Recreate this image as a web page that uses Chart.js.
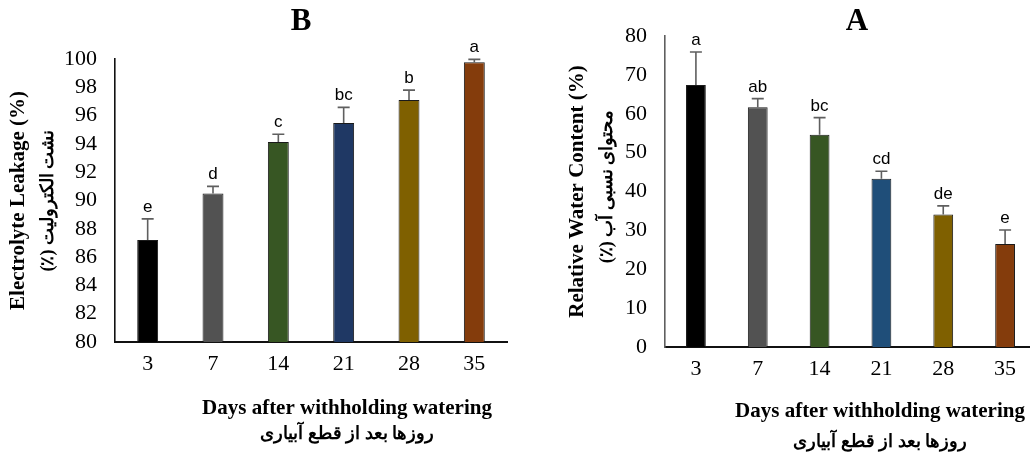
<!DOCTYPE html>
<html>
<head>
<meta charset="utf-8">
<script src="https://cdn.jsdelivr.net/npm/chart.js@4/dist/chart.umd.min.js"></script>
<style>
    html, body { margin: 0; padding: 0; background: #fff; overflow: hidden; width: 1030px; height: 454px; }
    .panel { position: absolute; top: 0; height: 454px; }
    #panel-b { left: 0; width: 515px; }
    #panel-a { left: 515px; width: 530px; }
</style>
</head>
<body>
<div class="panel" id="panel-b"><canvas id="chart-b"></canvas></div>
<div class="panel" id="panel-a"><canvas id="chart-a"></canvas></div>
<script>
// 數據
const days = ['3', '7', '14', '21', '28', '35'];
const barColorsB = ['#000000', '#525252', '#375623', '#1f3864', '#7f6000', '#843c0c'];
const barColorsA = ['#000000', '#525252', '#375623', '#1f4e79', '#7f6000', '#843c0c'];

// B: 電解質滲漏
const leakage = [87.2, 90.5, 94.13, 95.48, 97.1, 99.77];
const leakageErr = [1.5, 0.5, 0.55, 1.1, 0.7, 0.2];
const leakageLetters = ['e', 'd', 'c', 'bc', 'b', 'a'];

// A: 相對含水量
const rwc = [67.4, 61.7, 54.6, 43.3, 34.1, 26.5];
const rwcErr = [8.5, 2.2, 4.4, 1.9, 2.2, 3.6];
const rwcLetters = ['a', 'ab', 'bc', 'cd', 'de', 'e'];

const serif = '"Liberation Serif", "Times New Roman", serif';

/**
 * 誤差線、字母與標題
 */
const decorPlugin = {
    id: 'decor',
    afterDatasetsDraw(chart, args, opts) {
        const ctx = chart.ctx;
        const y = chart.scales.y;
        const meta = chart.getDatasetMeta(0);
        ctx.save();
        opts.values.forEach((v, i) => {
            const cx = meta.data[i].x;
            const yTop = y.getPixelForValue(v + opts.errors[i]);
            const yVal = y.getPixelForValue(v);
            ctx.strokeStyle = '#5f5f5f';
            ctx.lineWidth = 1.6;
            ctx.beginPath();
            ctx.moveTo(cx, yVal);
            ctx.lineTo(cx, yTop);
            ctx.moveTo(cx - 6, yTop);
            ctx.lineTo(cx + 6, yTop);
            ctx.stroke();

            ctx.fillStyle = '#000';
            ctx.font = '17px "Liberation Sans", Arial, sans-serif';
            ctx.textAlign = 'center';
            ctx.textBaseline = 'alphabetic';
            ctx.fillText(opts.letters[i], cx, yTop - 7);
        });

        // 面板標題
        ctx.fillStyle = '#000';
        ctx.font = 'bold 31px ' + serif;
        ctx.textAlign = 'center';
        ctx.textBaseline = 'middle';
        ctx.fillText(opts.panel, opts.panelX, opts.panelY);

        // X 軸標題
        ctx.font = 'bold 21px ' + serif;
        ctx.fillText('Days after withholding watering', opts.xTitleX, opts.xTitleY);
        ctx.direction = 'rtl';
        ctx.font = 'bold 18px ' + serif;
        ctx.fillText('روزها بعد از قطع آبیاری', opts.xTitleX, opts.xTitleY + opts.xTitleGap);
        ctx.direction = 'ltr';

        // Y 軸標題
        const midY = (chart.chartArea.top + chart.chartArea.bottom) / 2;
        ctx.translate(opts.yTitleX, midY);
        ctx.rotate(-Math.PI / 2);
        ctx.font = 'bold 21px ' + serif;
        ctx.fillText(opts.yTitle, 0, 0);
        ctx.direction = 'rtl';
        ctx.font = 'bold 18px ' + serif;
        ctx.fillText(opts.yTitleFa, opts.yTitleFaShift, 29);
        ctx.restore();
    }
};

function createBarChart(id, values, colors, yOpts, decor, padTop, xHeight, yWidth, padRight, yBorderColor) {
    return new Chart(document.getElementById(id), {
        type: 'bar',
        data: {
            labels: days,
            datasets: [{
                data: values,
                backgroundColor: colors,
                borderColor: '#1a1a1a',
                borderWidth: 1,
                barPercentage: 0.32,
                categoryPercentage: 1
            }]
        },
        options: {
            responsive: true,
            maintainAspectRatio: false,
            animation: false,
            layout: {
                padding: { top: padTop, right: padRight, bottom: 0, left: 0 }
            },
            plugins: {
                legend: { display: false },
                tooltip: { enabled: false },
                decor: decor
            },
            scales: {
                x: {
                    grid: { display: false, drawTicks: false },
                    border: { color: '#111', width: 2 },
                    ticks: {
                        color: '#000',
                        padding: 9,
                        maxRotation: 0,
                        font: { family: serif, size: 22 }
                    },
                    afterFit: (scale) => { scale.height = xHeight; }
                },
                y: {
                    min: yOpts.min,
                    max: yOpts.max,
                    grid: { display: false, drawTicks: false },
                    border: { color: yBorderColor, width: 1.6 },
                    ticks: {
                        stepSize: yOpts.step,
                        autoSkip: false,
                        color: '#000',
                        padding: 18,
                        font: { family: serif, size: 22 }
                    },
                    afterFit: (scale) => { scale.width = yWidth; }
                }
            }
        },
        plugins: [decorPlugin]
    });
}

createBarChart('chart-b', leakage, barColorsB, { min: 80, max: 100, step: 2 }, {
    values: leakage,
    errors: leakageErr,
    letters: leakageLetters,
    panel: 'B', panelX: 301, panelY: 22,
    xTitleX: 347, xTitleY: 409, xTitleGap: 25,
    yTitle: 'Electrolyte Leakage (%)',
    yTitleFa: 'نشت الکترولیت (٪)',
    yTitleFaShift: 0,
    yTitleX: 19
}, 59, 112, 115, 8, '#111');

createBarChart('chart-a', rwc, barColorsA, { min: 0, max: 80, step: 10 }, {
    values: rwc,
    errors: rwcErr,
    letters: rwcLetters,
    panel: 'A', panelX: 342, panelY: 22,
    xTitleX: 365, xTitleY: 412, xTitleGap: 30,
    yTitle: 'Relative Water Content (%)',
    yTitleFa: 'محتوای نسبی آب (٪)',
    yTitleFaShift: 5,
    yTitleX: 63
}, 36, 107, 150, 9, '#5f5f5f');
</script>
</body>
</html>
